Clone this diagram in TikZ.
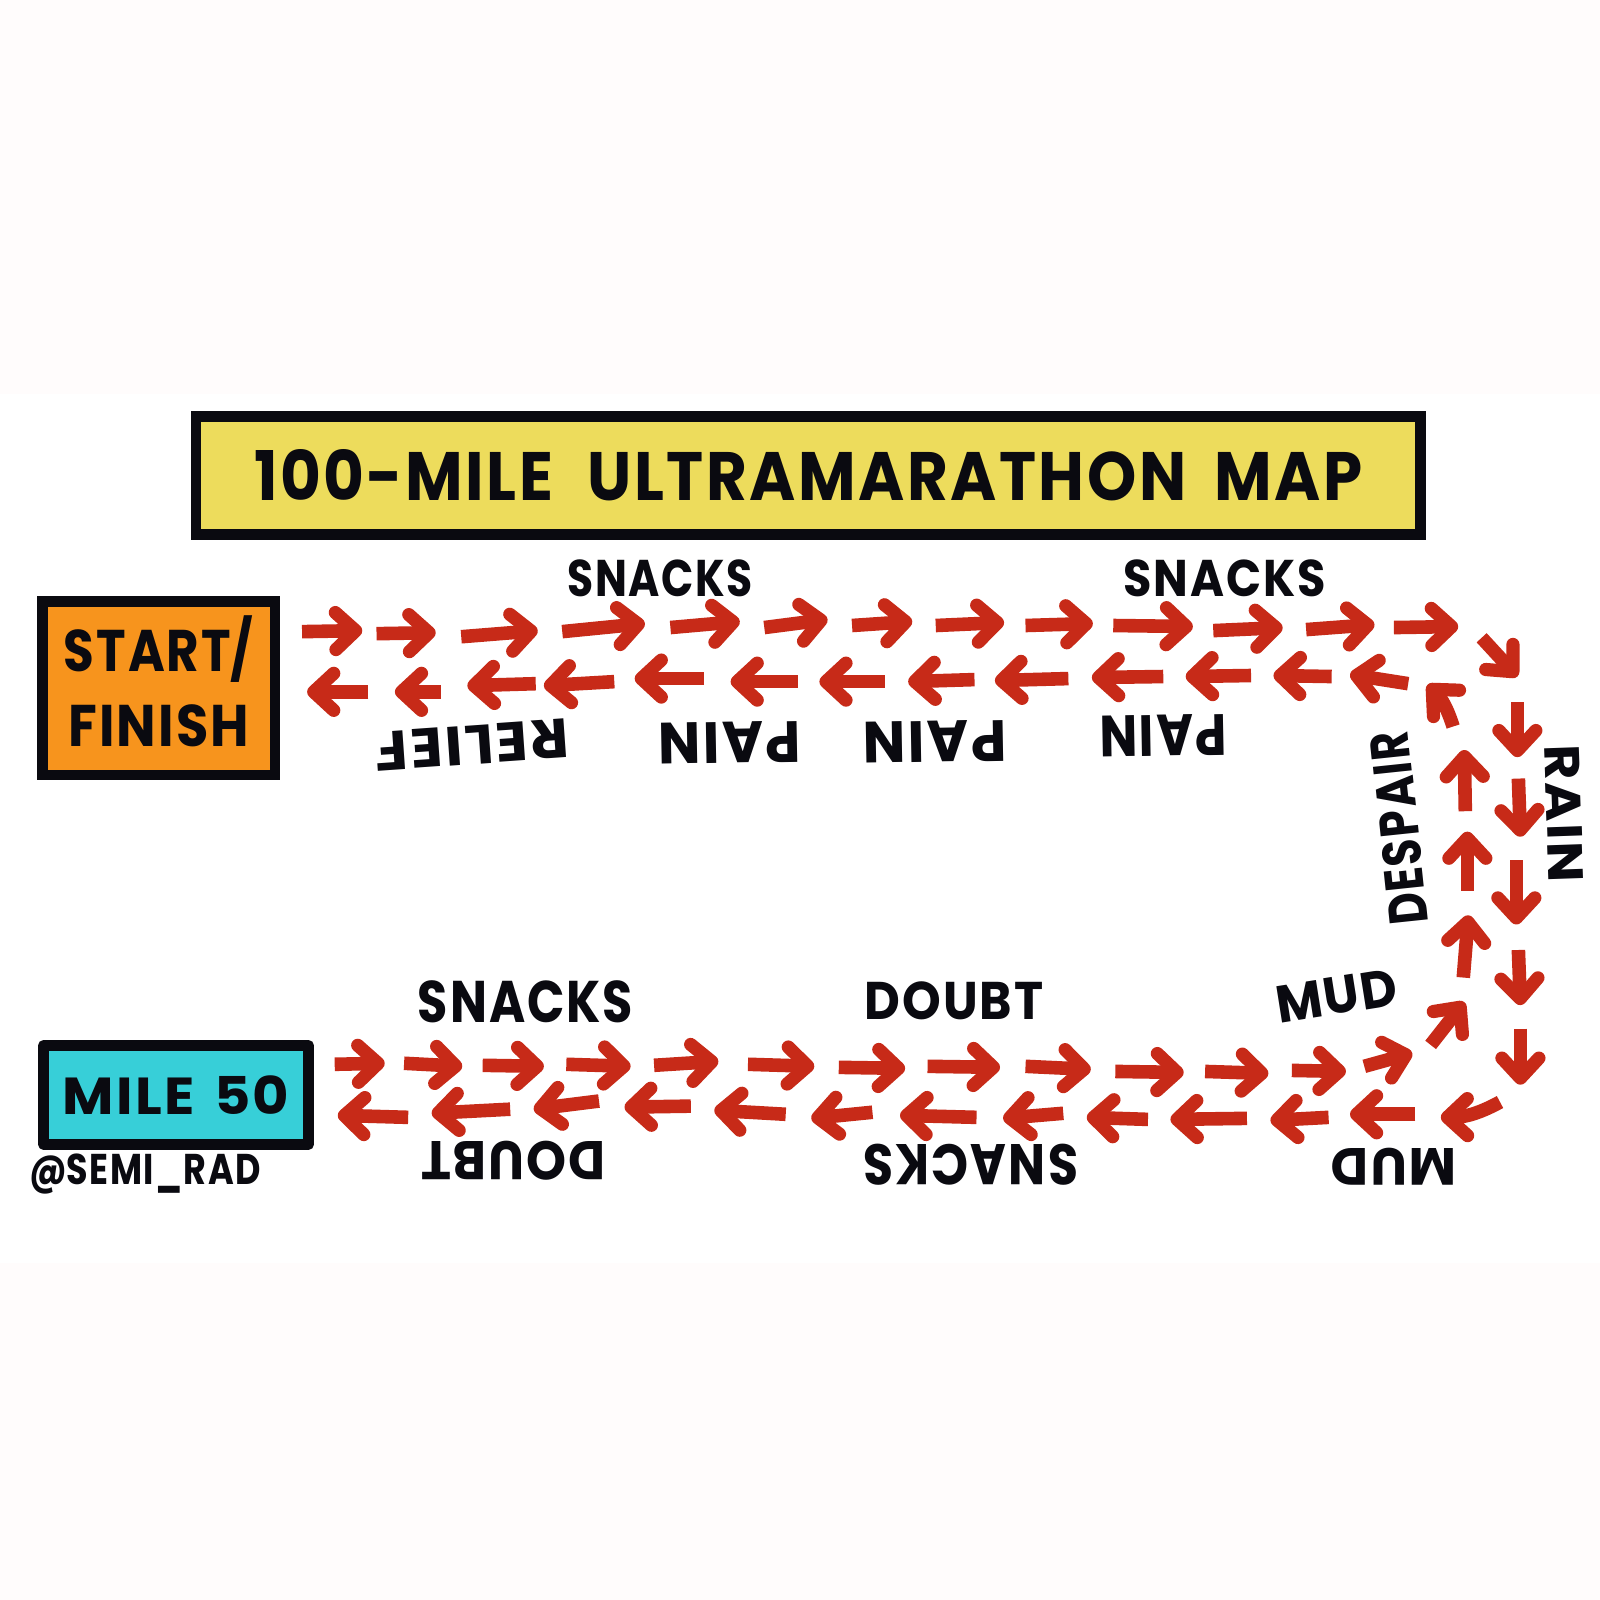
\documentclass[tikz,border=0pt]{standalone}
\usepackage{fontspec}
\usepackage{graphicx}
\setmainfont{Poppins}
\usetikzlibrary{arrows.meta}
\definecolor{inkc}{HTML}{0A0A10}
\definecolor{redc}{HTML}{C72A18}
\definecolor{titlec}{HTML}{EDDC5C}
\definecolor{startc}{HTML}{F7941D}
\definecolor{milec}{HTML}{37CFD8}
\definecolor{paperc}{HTML}{FFFCFC}
\newlength{\unitpx}\setlength{\unitpx}{0.5102pt}
\newcommand{\fit}[3]{\resizebox{#1\unitpx}{#2\unitpx}{\bfseries\addfontfeatures{LetterSpace=4}#3}}
\tikzset{
  x=0.5102pt,y=-0.5102pt,
  redarrow/.style={draw=redc,line width=6.8pt,line cap=butt,
    -{Straight Barb[length=10pt,width=18.5pt,line width=6.6pt,round]}},
  boxed/.style={draw=inkc,line width=5.2pt,inner sep=0pt,align=center,text=inkc,line join=miter},
  lettering/.style={text=inkc,inner sep=0pt,outer sep=0pt,align=center}
}
\begin{document}
\begin{tikzpicture}
\path[use as bounding box,fill=paperc] (0,0) rectangle (1568,1568);
\fill[white] (0,386) rectangle (1568,1238);

% boxes
\node[boxed,fill=titlec,minimum width=1200\unitpx,minimum height=116\unitpx] (title) at (792,466)
  {\fit{1086}{50}{100-MILE\hspace{.55em}ULTRAMARATHON\hspace{.45em}MAP}};
\node[boxed,fill=startc,minimum width=228\unitpx,minimum height=170\unitpx] (start) at (155.5,674.5)
  {\fit{186}{41}{START\smash{/}}\\[30\unitpx]\fit{177}{41}{FINISH}};
\node[boxed,fill=milec,line join=round,minimum width=260\unitpx,minimum height=97\unitpx] (mile) at (172.5,1073)
  {\fit{222}{38}{MILE\hspace{.1em} 50}};
\node[lettering] (credit) at (142,1150) {\fit{227}{30}{\smash{@}SEMI\_RAD}};

% labels
\node[lettering] (snackA) at (647,567) {\fit{182}{36}{SNACKS}};
\node[lettering] (snackB) at (1200,567) {\fit{198}{36}{SNACKS}};
\node[lettering,rotate=181] (painA) at (715,728) {\fit{140}{40}{PAIN}};
\node[lettering,rotate=181] (painB) at (916,727) {\fit{141}{40}{PAIN}};
\node[lettering,rotate=181] (painC) at (1140,721) {\fit{125}{40}{PAIN}};
\node[lettering,rotate=184] (relief) at (463,730) {\fit{190}{38}{RELIEF}};
\node[lettering,rotate=96] (despair) at (1371,812) {\fit{190}{38}{DESPAIR}};
\node[lettering,rotate=-88] (rain) at (1533,797) {\fit{135}{34}{RAIN}};
\node[lettering] (snackC) at (515,982) {\fit{211}{41}{SNACKS}};
\node[lettering] (doubtA) at (935,981) {\fit{175}{37}{DOUBT}};
\node[lettering,rotate=9] (mudA) at (1310,976) {\fit{120}{36}{MUD}};
\node[lettering,rotate=180] (mudB) at (1366,1143) {\fit{123}{36}{MUD}};
\node[lettering,rotate=180] (snackD) at (951,1141) {\fit{211}{40}{SNACKS}};
\node[lettering,rotate=180] (doubtB) at (503,1137) {\fit{181}{38}{DOUBT}};

% arrows: number / tail x / tail y / tip x / tip y
\foreach \n/\ax/\ay/\bx/\by in {
 1/296/619/355/618, 2/369/621/427/620, 3/452/624/527/618, 4/551/619/632/611,
 5/657/615/725/609, 6/749/615/811/607, 7/835/613/894/609, 8/917/613/984/610,
 9/1005/613/1071/611, 10/1091/613/1169/614, 11/1189/618/1257/615, 12/1280/617/1347/612,
 13/1366/615/1429/614, 14/1452/625/1487/663, 15/1487/688/1487/742, 16/1488/763/1490/820,
 17/1486/843/1486/906, 18/1488/931/1490/985, 19/1490/1008/1490/1063,
 21/1387/1092/1323/1092, 22/1302/1095/1245/1098, 23/1222/1096/1147/1097,
 24/1125/1097/1065/1095, 25/1042/1091/983/1096, 26/957/1095/882/1093, 27/855/1090/795/1096,
 28/770/1092/700/1088, 29/677/1084/612/1085, 30/587/1079/523/1087, 31/500/1087/423/1091,
 32/400/1095/331/1093,
 33/328/1043/377/1042, 34/396/1042/453/1045, 35/473/1044/533/1045, 36/555/1043/618/1045,
 37/641/1044/704/1040, 38/733/1043/798/1045, 39/822/1046/887/1047, 40/909/1045/980/1046,
 41/1005/1045/1069/1048, 42/1093/1050/1160/1051, 43/1181/1050/1243/1052, 44/1266/1049/1319/1050,
 45/1337/1045/1384/1032, 46/1402/1024/1435/982, 47/1434/958/1439/897, 48/1438/873/1438/815,
 49/1436/795/1435/735,
 51/1380/670/1323/661, 52/1305/663/1248/662, 53/1226/662/1162/663, 54/1140/663/1070/664,
 55/1047/665/975/667, 56/955/666/890/668, 57/867/668/803/668, 58/782/668/716/668,
 59/690/665/622/665, 60/602/668/533/672, 61/525/670/458/672, 62/432/678/387/678, 63/361/678/301/678}
{
  \coordinate (s\n) at (\ax,\ay);
  \coordinate (e\n) at (\bx,\by);
  \draw[redarrow] (s\n) -- (e\n);
}
% the two curved arrows of the turn
\coordinate (s20) at (1470,1080);
\coordinate (e20) at (1412,1095);
\draw[redarrow] (s20) to[bend left=14] (e20);
\coordinate (s50) at (1424,712);
\coordinate (e50) at (1399,671);
\draw[redarrow] (s50) to[bend right=14] (e50);
\end{tikzpicture}
\end{document}
